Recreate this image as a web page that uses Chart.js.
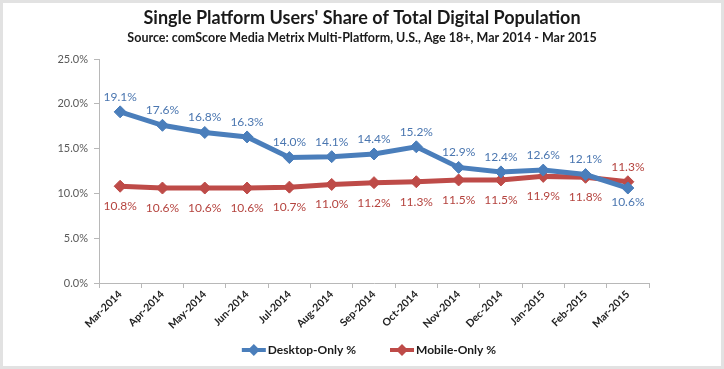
<!DOCTYPE html>
<html>
<head>
<meta charset="utf-8">
<script src="https://cdn.jsdelivr.net/npm/chart.js@4.4.1/dist/chart.umd.min.js"></script>
<style>
  html, body { margin: 0; padding: 0; background: #fff; }
  #wrap { width: 724px; height: 369px; position: relative; }
</style>
</head>
<body>
<div id="wrap"><canvas id="chart" width="724" height="369"></canvas></div>
<script>
// Dados do gráfico
const months = ['Mar-2014', 'Apr-2014', 'May-2014', 'Jun-2014', 'Jul-2014', 'Aug-2014', 'Sep-2014',
                'Oct-2014', 'Nov-2014', 'Dec-2014', 'Jan-2015', 'Feb-2015', 'Mar-2015'];
const desktopOnly = [19.1, 17.6, 16.8, 16.3, 14.0, 14.1, 14.4, 15.2, 12.9, 12.4, 12.6, 12.1, 10.6];
const mobileOnly  = [10.8, 10.6, 10.6, 10.6, 10.7, 11.0, 11.2, 11.3, 11.5, 11.5, 11.9, 11.8, 11.3];
const yTicks = [0, 5, 10, 15, 20, 25];

const titleText = "Single Platform Users' Share of Total Digital Population";
const subtitleText = 'Source: comScore Media Metrix Multi-Platform, U.S., Age 18+, Mar 2014 - Mar 2015';

const blue = '#4a7ebb';
const red = '#be4b48';
const fontFamily = 'Lato, "Open Sans", sans-serif';

// Fundo, moldura, títulos e legenda (centralizados no canvas inteiro)
const framePlugin = {
    id: 'frame',
    beforeDraw(chart) {
        const { ctx, width, height } = chart;
        ctx.save();
        ctx.fillStyle = '#ffffff';
        ctx.fillRect(0, 0, width, height);
        ctx.strokeStyle = '#e2e2e2';
        ctx.lineWidth = 3;
        ctx.strokeRect(1.5, 1.5, width - 3, height - 3);
        ctx.restore();
    },
    afterDraw(chart) {
        const { ctx, width } = chart;
        const cx = width / 2;
        ctx.save();
        ctx.textAlign = 'center';
        ctx.textBaseline = 'middle';
        ctx.fillStyle = '#1a1a1a';
        ctx.font = 'bold 18px ' + fontFamily;
        ctx.fillText(titleText, cx, 18);
        ctx.font = 'bold 12.5px ' + fontFamily;
        ctx.fillText(subtitleText, cx, 38);

        // legenda
        ctx.font = 'bold 12px ' + fontFamily;
        ctx.textAlign = 'left';
        const iconW = 24, gapText = 2, gapItems = 34, ly = 350;
        const items = chart.data.datasets.map(ds => ({ text: ds.label, color: ds.borderColor, w: ctx.measureText(ds.label).width }));
        const total = items.reduce((s, it) => s + iconW + gapText + it.w, 0) + gapItems * (items.length - 1);
        let x = cx + 7 - total / 2;
        items.forEach(it => {
            ctx.strokeStyle = it.color;
            ctx.fillStyle = it.color;
            ctx.lineWidth = 4;
            ctx.beginPath(); ctx.moveTo(x, ly); ctx.lineTo(x + iconW, ly); ctx.stroke();
            const mx = x + iconW / 2;
            ctx.beginPath(); ctx.moveTo(mx, ly - 6); ctx.lineTo(mx + 6, ly); ctx.lineTo(mx, ly + 6); ctx.lineTo(mx - 6, ly); ctx.closePath(); ctx.fill();
            ctx.fillStyle = '#1a1a1a';
            ctx.fillText(it.text, x + iconW + gapText, ly);
            x += iconW + gapText + it.w + gapItems;
        });
        ctx.restore();
    }
};

// Rótulos de dados
const labelsPlugin = {
    id: 'valueLabels',
    afterDatasetsDraw(chart) {
        const { ctx } = chart;
        ctx.save();
        ctx.font = '12px ' + fontFamily;
        ctx.textAlign = 'center';
        ctx.textBaseline = 'middle';
        chart.data.datasets.forEach((ds, di) => {
            const other = chart.data.datasets[1 - di].data;
            chart.getDatasetMeta(di).data.forEach((pt, i) => {
                const v = ds.data[i];
                const above = v >= other[i];
                ctx.fillStyle = ds.labelColor;
                const dy = above ? -15 : (di === 1 ? 20 : 14);
                ctx.fillText(v.toFixed(1) + '%', pt.x, pt.y + dy);
            });
        });
        ctx.restore();
    }
};

new Chart(document.getElementById('chart'), {
    type: 'line',
    data: {
        labels: months,
        datasets: [
            {
                label: 'Desktop-Only %',
                data: desktopOnly,
                borderColor: blue,
                backgroundColor: blue,
                borderWidth: 5,
                pointStyle: 'rectRot',
                pointRadius: 6,
                pointBorderWidth: 1,
                labelColor: '#4a76b0',
                tension: 0
            },
            {
                label: 'Mobile-Only %',
                data: mobileOnly,
                borderColor: red,
                backgroundColor: red,
                borderWidth: 5,
                pointStyle: 'rectRot',
                pointRadius: 6,
                pointBorderWidth: 1,
                labelColor: '#b5443f',
                tension: 0
            }
        ]
    },
    options: {
        responsive: false,
        animation: false,
        layout: { padding: { left: 10, right: 75, top: 59, bottom: 36 } },
        plugins: {
            title: { display: false },
            legend: { display: false },
            tooltip: { enabled: false }
        },
        scales: {
            x: {
                offset: true,
                afterFit(scale) { scale.height = 50; },
                grid: { offset: true, drawOnChartArea: false, drawTicks: true, tickLength: 5, color: '#b8b8b8' },
                border: { color: '#b8b8b8', width: 1 },
                ticks: {
                    minRotation: 45, maxRotation: 45,
                    color: '#222',
                    font: { family: fontFamily, size: 10.5, weight: 'bold' },
                    padding: 0
                }
            },
            y: {
                min: yTicks[0],
                max: yTicks[yTicks.length - 1],
                afterBuildTicks(scale) { scale.ticks = yTicks.map(v => ({ value: v })); },
                afterFit(scale) { scale.width = 89; },
                grid: { drawOnChartArea: false, drawTicks: true, tickLength: 5, color: '#b8b8b8' },
                border: { color: '#b8b8b8', width: 1 },
                ticks: {
                    color: '#595959',
                    font: { family: fontFamily, size: 11 },
                    padding: 6,
                    callback: v => v.toFixed(1) + '%'
                }
            }
        }
    },
    plugins: [framePlugin, labelsPlugin]
});
</script>
</body>
</html>
